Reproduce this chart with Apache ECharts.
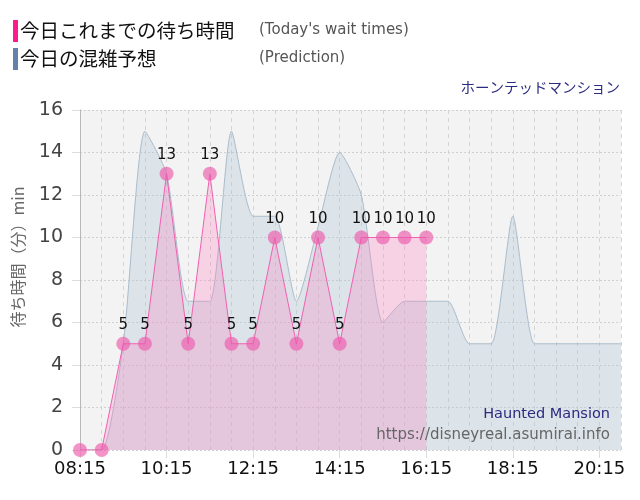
<!DOCTYPE html>
<html>
<head>
<meta charset="utf-8">
<script src="https://cdn.jsdelivr.net/npm/echarts@6/dist/echarts.min.js"></script>
<style>
  html, body { margin: 0; padding: 0; background: #fff; }
  #main { width: 640px; height: 500px; }
</style>
</head>
<body>
<div id="main"></div>
<script>
// 30分ごとの時刻
var times = ['08:15','08:45','09:15','09:45','10:15','10:45','11:15','11:45','12:15','12:45',
             '13:15','13:45','14:15','14:45','15:15','15:45','16:15','16:45','17:15','17:45',
             '18:15','18:45','19:15','19:45','20:15','20:45'];
// 今日これまでの待ち時間
var actual = [0, 0, 5, 5, 13, 5, 13, 5, 5, 10, 5, 10, 5, 10, 10, 10, 10];
// 今日の混雑予想
var prediction = [0, 0, 5, 15, 13, 7, 7, 15, 11, 11, 7, 10.5, 14, 12, 6, 7, 7, 7, 5, 5, 11, 5, 5, 5, 5, 5];
var yTicks = [0, 2, 4, 6, 8, 10, 12, 14, 16];

var jp = '"Noto Sans CJK JP", sans-serif';
var latin = '"DejaVu Sans", Verdana, sans-serif';

var chart = echarts.init(document.getElementById('main'));
var option = {
    animation: false,
    grid: {
        left: 80, right: 19, top: 110, bottom: 50,
        show: true, backgroundColor: '#f3f3f3', borderWidth: 0
    },
    graphic: [
        {type: 'rect', left: 13, top: 20, shape: {width: 5, height: 22}, style: {fill: '#ff1b8d'}},
        {type: 'rect', left: 13, top: 48, shape: {width: 5, height: 22}, style: {fill: '#6282ac'}},
        {type: 'text', left: 20, top: 21, style: {text: '今日これまでの待ち時間', font: '19.5px ' + jp, fill: '#111'}},
        {type: 'text', left: 20, top: 49, style: {text: '今日の混雑予想', font: '19.5px ' + jp, fill: '#111'}},
        {type: 'text', left: 259, top: 23, style: {text: "(Today's wait times)", font: '15px ' + latin, fill: '#555'}},
        {type: 'text', left: 259, top: 51, style: {text: '(Prediction)', font: '15px ' + latin, fill: '#555'}},
        {type: 'text', right: 20, top: 80, style: {text: 'ホーンテッドマンション', font: '14.5px ' + jp, fill: '#2b2b80'}},
        {type: 'text', right: 30, top: 407, z: 50, style: {text: 'Haunted Mansion', font: '14.5px ' + latin, fill: '#2b2b80'}},
        {type: 'text', right: 30, top: 428, z: 50, style: {text: 'https://disneyreal.asumirai.info', font: '15px ' + latin, fill: '#666'}},
        {type: 'text', x: 18, y: 257, rotation: Math.PI / 2,
         style: {text: '待ち時間（分）min', font: '16px ' + jp, fill: '#666', align: 'center', verticalAlign: 'middle'}}
    ],
    xAxis: {
        type: 'category',
        data: times,
        boundaryGap: false,
        axisLine: {show: false},
        axisTick: {show: true, interval: 3, length: 8, lineStyle: {color: '#ddd'}},
        axisLabel: {interval: 3, fontSize: 18, color: '#111', fontFamily: latin, margin: 10},
        splitLine: {show: true, interval: 0, lineStyle: {color: '#d4d4d4', type: [4, 4]}}
    },
    yAxis: {
        type: 'value',
        min: yTicks[0], max: yTicks[yTicks.length - 1], interval: 2,
        axisLine: {show: true, lineStyle: {color: '#b8b8b8'}},
        axisTick: {show: true, length: 8, lineStyle: {color: '#ddd'}},
        axisLabel: {fontSize: 19, color: '#444', fontFamily: latin, margin: 17},
        splitLine: {show: true, lineStyle: {color: '#d0d0d0', type: [2, 2]}}
    },
    series: [
        {
            name: '今日の混雑予想',
            type: 'line',
            data: prediction,
            smooth: 0.2,
            symbol: 'none',
            lineStyle: {color: '#aabccb', width: 1},
            areaStyle: {color: 'rgba(165,192,210,0.42)'},
            z: 2
        },
        {
            name: '今日これまでの待ち時間',
            type: 'line',
            data: actual,
            symbol: 'circle',
            symbolSize: 14,
            showAllSymbol: true,
            itemStyle: {color: 'rgba(236,90,172,0.65)'},
            lineStyle: {color: '#f060b0', width: 1},
            areaStyle: {color: 'rgba(255,124,191,0.4)'},
            label: {
                show: true, position: 'top', distance: 4,
                fontSize: 15, color: '#111', fontFamily: latin,
                formatter: function (p) { return p.value > 0 ? p.value : ''; }
            },
            z: 3
        }
    ]
};
chart.setOption(option);
</script>
</body>
</html>
